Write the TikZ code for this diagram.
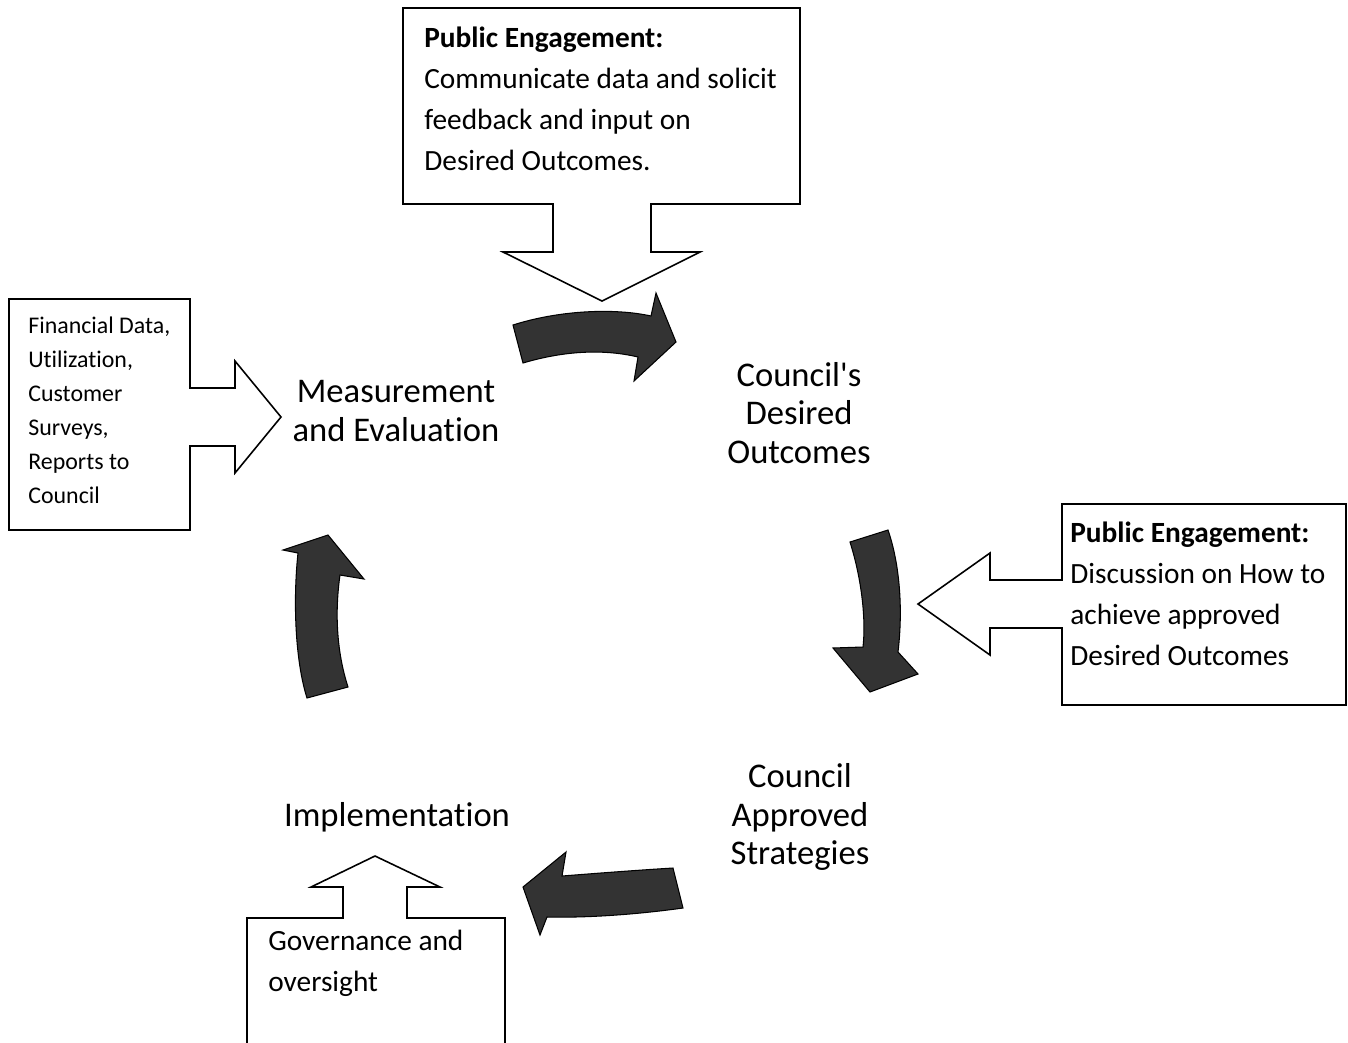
\documentclass[tikz,border=0pt]{standalone}
\usepackage{fontspec}
\setmainfont{Carlito}[Ligatures={TeX,NoCommon}]
\usetikzlibrary{positioning}

\begin{document}
\begin{tikzpicture}[x=0.02cm, y=-0.02cm,
    callout/.style = {draw, line width=0.9pt, line join=miter, fill=white},
    turn/.style = {draw=black, fill=black!80, line width=0.6pt},
    stage/.style = {align=center, font=\fontsize{19.7}{21.7}\selectfont},
    note/.style = {align=left, anchor=north west, inner sep=0pt, font=\fontsize{16.7}{23.2}\selectfont},
    smallnote/.style = {note, font=\fontsize{13.6}{19.3}\selectfont}]
    \useasboundingbox (0,0) rectangle (1348,1042);

    \draw[callout] (403,8) -- (800,8) -- (800,204) -- (651,204) -- (651,252) -- (700,252) -- (602,301)
        -- (503,252) -- (553,252) -- (553,204) -- (403,204) -- cycle;
    \draw[callout] (9,299) -- (190,299) -- (190,388) -- (235,388) -- (235,361) -- (281,417)
        -- (235,473) -- (235,446) -- (190,446) -- (190,530) -- (9,530) -- cycle;
    \draw[callout] (1062,504) -- (1346,504) -- (1346,705) -- (1062,705) -- (1062,628) -- (990,628)
        -- (990,655) -- (918,604) -- (990,553) -- (990,580) -- (1062,580) -- cycle;
    \draw[callout] (247,1045) -- (247,918) -- (343,918) -- (343,887) -- (311,887) -- (375,856)
        -- (440,887) -- (407,887) -- (407,918) -- (505,918) -- (505,1045);

    \node[stage] (meas) at (396,411) {Measurement\\and Evaluation};
    \node[stage] (outc) at (799,413) {Council\textquotesingle s\\Desired\\Outcomes};
    \node[stage] (strat) at (800,817) {Council\\Approved\\Strategies};
    \node[stage] (impl) at (397,817) {Implementation};

    \node[note] (pub1) at (424,27) {\textbf{Public Engagement:}\\Communicate data and solicit\\feedback and input on\\Desired Outcomes.};
    \node[smallnote] (data) at (28,317) {Financial Data,\\Utilization,\\Customer\\Surveys,\\Reports to\\Council};
    \node[note] (pub2) at (1070,522) {\textbf{Public Engagement:}\\Discussion on How to\\achieve approved\\Desired Outcomes};
    \node[note] (gov) at (268,930) {Governance and\\oversight};

    \draw[turn] (513,325) .. controls (560,310) and (615,308) .. (651,316) -- (656,293) -- (676,342)
        -- (634,381) -- (638,357) .. controls (600,348) and (560,352) .. (523,363) -- cycle;
    \draw[turn] (850,542) .. controls (862,580) and (866,620) .. (863,647) -- (833,648) -- (870,692)
        -- (918,674) -- (898,652) .. controls (903,610) and (900,565) .. (888,530) -- cycle;
    \draw[turn] (673,868) .. controls (640,870) and (600,873) .. (562,876) -- (566,852) -- (523,887)
        -- (540,935) -- (547,917) .. controls (590,918) and (640,914) .. (683,908) -- cycle;
    \draw[turn] (307,698) .. controls (295,660) and (293,600) .. (298,553) -- (283,550) -- (328,535)
        -- (364,579) -- (340,575) .. controls (335,610) and (336,650) .. (348,687) -- cycle;
\end{tikzpicture}
\end{document}
